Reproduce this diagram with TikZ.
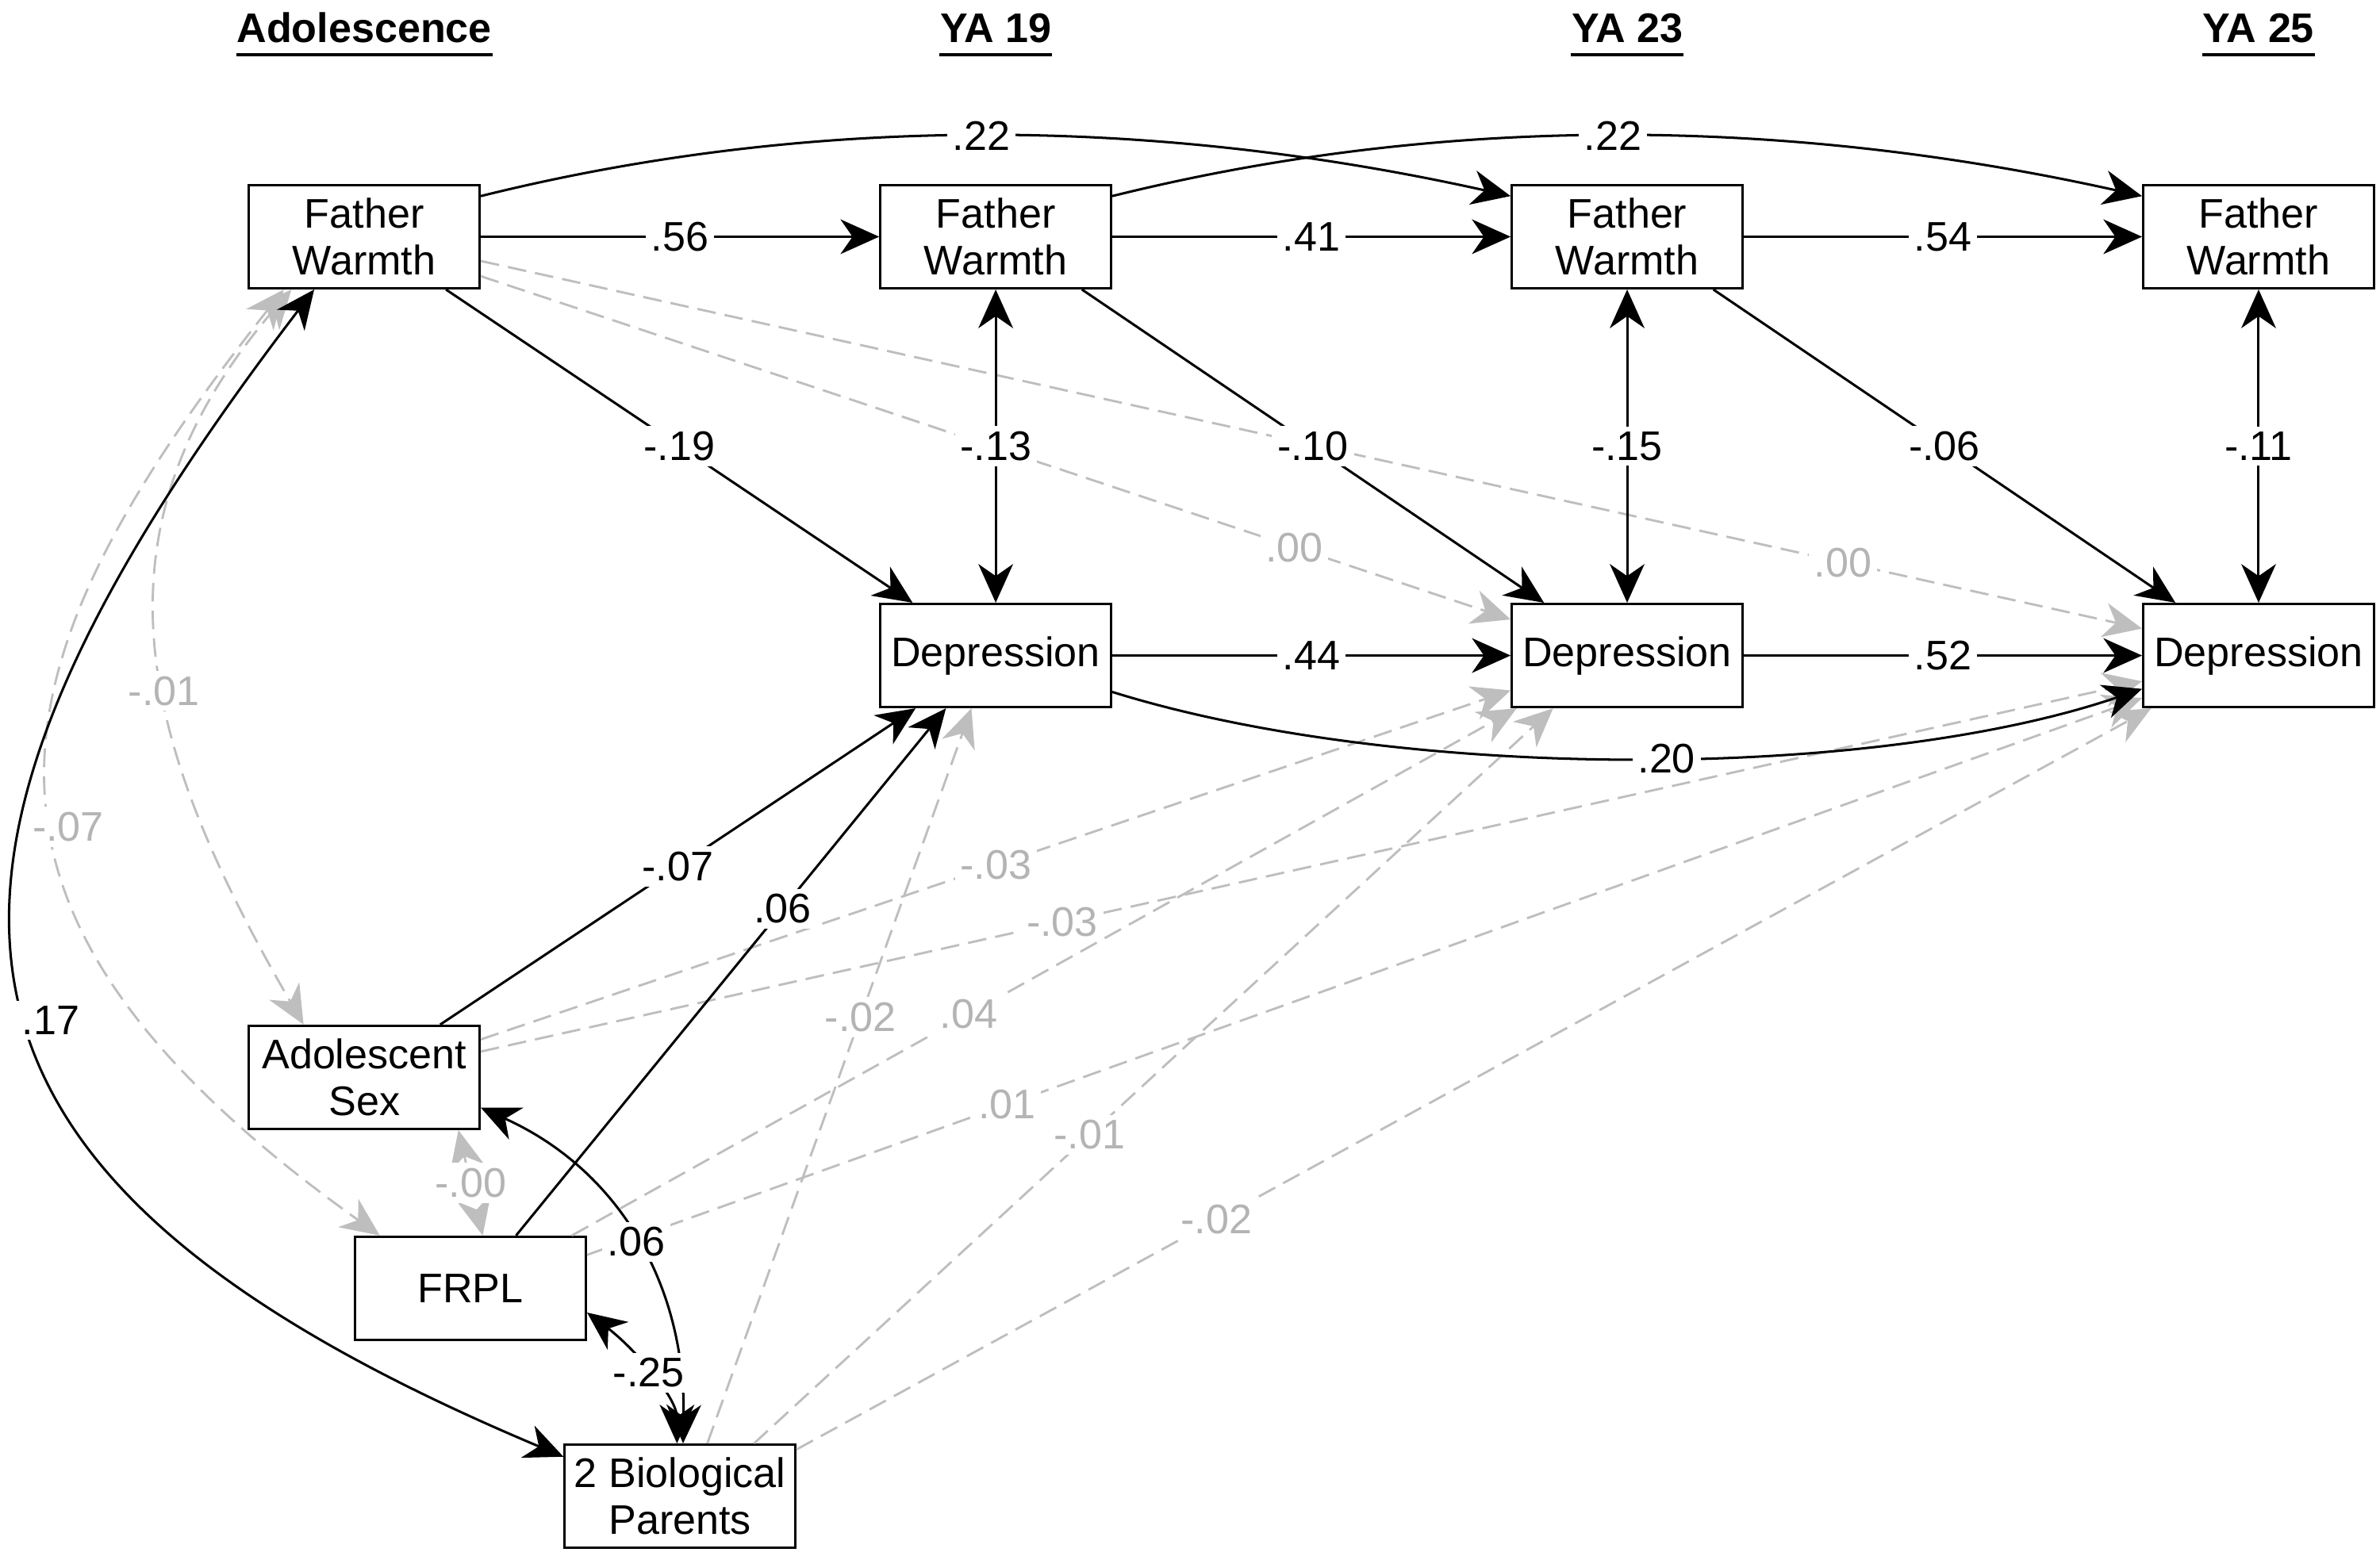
\documentclass[tikz,border=0pt]{standalone}
\usepackage{fontspec}
\setmainfont{Liberation Sans}
\usetikzlibrary{arrows.meta,calc}
\definecolor{pathgray}{HTML}{BEBEBE}
\definecolor{numgray}{HTML}{B4B4B4}

\begin{document}
\begin{tikzpicture}[x=0.02cm, y=-0.02cm,
  font=\fontsize{15.5pt}{17.6pt}\selectfont,
  >={Stealth[length=14.5pt,width=13pt,inset=4.5pt]},
  var/.style={draw, line width=0.9pt, minimum width=3.04cm, minimum height=1.36cm, align=center, inner sep=0pt},
  wave/.style={font=\fontsize{15.5pt}{17.6pt}\selectfont\bfseries, inner sep=0pt, anchor=base},
  coef/.style={fill=white, inner sep=2pt},
  ncoef/.style={coef, text=numgray},
  sig/.style={line width=0.9pt},
  nsig/.style={draw=pathgray, line width=0.85pt, dash pattern=on 7pt off 3.4pt}]
\useasboundingbox (0,0) rectangle (1568,1028);

\node[wave] (hAdol) at (240,28) {Adolescence};
\node[wave] (hYa19) at (656,28) {YA 19};
\node[wave] (hYa23) at (1072,28) {YA 23};
\node[wave] (hYa25) at (1488,28) {YA 25};
\foreach \h in {hAdol,hYa19,hYa23,hYa25}
  \draw[line width=1.3pt] ([yshift=-4.5pt]\h.base west) -- ([yshift=-4.5pt]\h.base east);

\node[var] (fw0) at (240,156) {Father\\Warmth};
\node[var] (fw1) at (656,156) {Father\\Warmth};
\node[var] (fw2) at (1072,156) {Father\\Warmth};
\node[var] (fw3) at (1488,156) {Father\\Warmth};
\node[var] (dep1) at (656,432) {Depression};
\node[var] (dep2) at (1072,432) {Depression};
\node[var] (dep3) at (1488,432) {Depression};
\node[var] (sex) at (240,710) {Adolescent\\Sex};
\node[var] (frpl) at (310,849) {FRPL};
\node[var] (bio) at (448,986) {2 Biological\\Parents};

% non-significant paths
\draw[nsig,->] ($(fw0.east)+(0,26)$) -- node[ncoef,pos=0.79]{.00} ($(dep2.north west)+(0,11)$);
\draw[nsig,->] ($(fw0.east)+(0,16)$) -- node[ncoef,pos=0.82]{.00} ($(dep3.north west)+(0,17)$);
\draw[nsig,<->] ($(fw0.south)+(-48,0)$) .. controls (53,352) and (94,492) .. node[ncoef,pos=0.565]{-.01} ($(sex.north)+(-40,0)$);
\draw[nsig,<->] ($(fw0.south)+(-53,0)$) .. controls (-10,440) and (-50,600) .. node[ncoef,pos=0.55,xshift=0.2cm]{-.07} ($(frpl.north west)+(17,0)$);
\draw[nsig,<->] ($(sex.south)+(62,0)$) -- node[ncoef]{-.00} ($(frpl.north)+(8,0)$);
\draw[nsig,->] ($(sex.east)+(0,-25)$) -- node[ncoef]{-.03} ($(dep2.west)+(0,23)$);
\draw[nsig,->] ($(sex.east)+(0,-17)$) -- node[ncoef,pos=0.35]{-.03} ($(dep3.west)+(0,17)$);
\draw[nsig,->] ($(frpl.north east)+(-10,0)$) -- node[ncoef,pos=0.42]{.04} ($(dep2.south west)+(4,0)$);
\draw[nsig,->] ($(frpl.east)+(0,-22)$) -- node[ncoef,pos=0.27]{.01} ($(dep3.west)+(0,28)$);
\draw[nsig,->] ($(bio.north)+(18,0)$) -- node[ncoef,pos=0.58]{-.02} ($(dep1.south)+(-16,0)$);
\draw[nsig,->] ($(bio.north east)+(-28,0)$) -- node[ncoef,pos=0.42]{-.01} ($(dep2.south west)+(28,0)$);
\draw[nsig,->] ($(bio.north east)+(0,4)$) -- node[ncoef,pos=0.31]{-.02} ($(dep3.south west)+(6,0)$);

% significant paths
\draw[sig,->] (fw0) -- node[coef]{.56} (fw1);
\draw[sig,->] (fw1) -- node[coef]{.41} (fw2);
\draw[sig,->] (fw2) -- node[coef]{.54} (fw3);
\draw[sig,->] (dep1) -- node[coef]{.44} (dep2);
\draw[sig,->] (dep2) -- node[coef]{.52} (dep3);
\draw[sig,<->] (fw1) -- node[coef]{-.13} (dep1);
\draw[sig,<->] (fw2) -- node[coef]{-.15} (dep2);
\draw[sig,<->] (fw3) -- node[coef]{-.11} (dep3);
\draw[sig,->] ($(fw0.south east)+(-23,0)$) -- node[coef]{-.19} ($(dep1.north west)+(22,0)$);
\draw[sig,->] ($(fw1.south east)+(-20,0)$) -- node[coef]{-.10} ($(dep2.north west)+(22,0)$);
\draw[sig,->] ($(fw2.south east)+(-20,0)$) -- node[coef]{-.06} ($(dep3.north west)+(22,0)$);
\draw[sig,->] ($(fw0.north east)+(0,8)$) .. controls (531,76) and (756,76) .. node[coef]{.22} ($(fw2.north west)+(0,8)$);
\draw[sig,->] ($(fw1.north east)+(0,8)$) .. controls (947,76) and (1172,76) .. node[coef]{.22} ($(fw3.north west)+(0,8)$);
\draw[sig,->] ($(dep1.east)+(0,24)$) .. controls (922,515) and (1232,515) .. node[coef,pos=0.53]{.20} ($(dep3.west)+(0,22)$);
\draw[sig,->] ($(sex.north)+(50,0)$) -- node[coef]{-.07} ($(dep1.south west)+(24,0)$);
\draw[sig,->] ($(frpl.north)+(30,0)$) -- node[coef,pos=0.62]{.06} ($(dep1.south west)+(44,0)$);
\draw[sig,<->] ($(sex.east)+(0,20)$) .. controls (410,772) and (452,850) .. node[coef]{.06} ($(bio.north)+(2,0)$);
\draw[sig,<->] ($(frpl.east)+(0,16)$) .. controls (416,887) and (446,920) .. node[coef]{-.25} ($(bio.north)+(-2,0)$);
\draw[sig,<->] ($(fw0.south)+(-33,0)$) .. controls (-88,577) and (-69,775) .. node[coef,pos=0.53,xshift=0.3cm]{.17} ($(bio.west)+(0,-26)$);
\end{tikzpicture}
\end{document}
